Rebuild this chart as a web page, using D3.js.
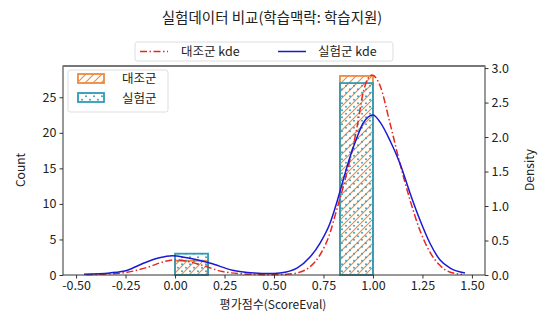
<!DOCTYPE html>
<html>
<head>
<meta charset="utf-8">
<script src="https://cdn.jsdelivr.net/npm/d3@7"></script>
<style>
  body { margin: 0; background: #fff; }
  text { font-family: "Noto Sans CJK KR", "Noto Sans", sans-serif; fill: #222; }
</style>
</head>
<body>
<svg id="chart" width="543" height="316"></svg>
<script>
// histogram bins (6 bins between 0 and 1)
const binEdges = [0, 0.1667, 0.3333, 0.5, 0.6667, 0.8333, 1.0];
const controlCounts = [2, 0, 0, 0, 0, 28];
const expCounts = [3, 0, 0, 0, 0, 27];

// kde curves
const controlKdeX = [-0.45, -0.34, -0.24, -0.13, -0.06, 0.0, 0.06, 0.126, 0.24, 0.35, 0.45, 0.55, 0.616, 0.682, 0.732, 0.783, 0.816, 0.85, 0.884, 0.92, 0.95, 0.975, 0.995, 1.035, 1.086, 1.136, 1.187, 1.237, 1.288, 1.338, 1.39, 1.45];
const controlKdeY = [0.005, 0.015, 0.04, 0.12, 0.19, 0.22, 0.2, 0.15, 0.05, 0.015, 0.005, 0.008, 0.03, 0.12, 0.29, 0.61, 0.94, 1.28, 1.67, 2.15, 2.64, 2.85, 2.9, 2.75, 2.2, 1.62, 1.09, 0.65, 0.33, 0.14, 0.04, 0.01];
const expKdeX = [-0.46, -0.33, -0.24, -0.16, -0.08, -0.015, 0.06, 0.18, 0.29, 0.4, 0.47, 0.53, 0.616, 0.682, 0.732, 0.783, 0.816, 0.85, 0.884, 0.92, 0.95, 1.0, 1.035, 1.086, 1.136, 1.187, 1.237, 1.288, 1.338, 1.39, 1.465];
const expKdeY = [0.01, 0.03, 0.07, 0.17, 0.25, 0.28, 0.25, 0.17, 0.07, 0.03, 0.02, 0.03, 0.1, 0.26, 0.46, 0.75, 1.04, 1.38, 1.71, 2.0, 2.2, 2.32, 2.22, 1.95, 1.62, 1.19, 0.8, 0.46, 0.22, 0.1, 0.03];

const xTicks = [-0.5, -0.25, 0, 0.25, 0.5, 0.75, 1.0, 1.25, 1.5];
const countTicks = [0, 5, 10, 15, 20, 25];
const densTicks = [0, 0.5, 1.0, 1.5, 2.0, 2.5, 3.0];

const orange = '#ef8a3e';
const teal = '#2f9bb4';

const svg = d3.select('#chart');
const plotLeft = 63, plotRight = 485, plotTop = 66, plotBottom = 275;

const x = d3.scaleLinear().domain([-0.566, 1.566]).range([plotLeft, plotRight]);
const yCount = d3.scaleLinear().domain([0, 29.4]).range([plotBottom, plotTop]);
const yDens = d3.scaleLinear().domain([0, 3.03]).range([plotBottom, plotTop]);

// hatch patterns
const defs = svg.append('defs');
const diag = defs.append('pattern').attr('id', 'diag')
  .attr('patternUnits', 'userSpaceOnUse').attr('width', 8).attr('height', 8);
diag.append('path').attr('d', 'M0,8 L8,0 M-2,2 L2,-2 M6,10 L10,6')
  .attr('stroke', orange).attr('stroke-width', 1.1);
const dots = defs.append('pattern').attr('id', 'dots')
  .attr('patternUnits', 'userSpaceOnUse').attr('width', 8).attr('height', 7);
dots.append('circle').attr('cx', 2).attr('cy', 1.75).attr('r', 0.95).attr('fill', teal);
dots.append('circle').attr('cx', 6).attr('cy', 5.25).attr('r', 0.95).attr('fill', teal);

// histograms
const drawHist = (counts, pat, color) => {
  const bins = counts.map((c, i) => ({ x0: binEdges[i], x1: binEdges[i + 1], c }))
    .filter(d => d.c > 0);
  svg.append('g').selectAll('rect').data(bins).enter().append('rect')
    .attr('x', d => x(d.x0))
    .attr('y', d => yCount(d.c))
    .attr('width', d => x(d.x1) - x(d.x0))
    .attr('height', d => yCount(0) - yCount(d.c))
    .attr('fill', `url(#${pat})`)
    .attr('stroke', color)
    .attr('stroke-width', 1.8);
};
drawHist(controlCounts, 'diag', orange);
drawHist(expCounts, 'dots', teal);

// kde lines
const line = d3.line().x(d => x(d[0])).y(d => yDens(d[1])).curve(d3.curveMonotoneX);
svg.append('path')
  .attr('d', line(controlKdeX.map((v, i) => [v, controlKdeY[i]])))
  .attr('fill', 'none').attr('stroke', '#e8281e').attr('stroke-width', 1.5)
  .attr('stroke-dasharray', '7,2.5,1.5,2.5');
svg.append('path')
  .attr('d', line(expKdeX.map((v, i) => [v, expKdeY[i]])))
  .attr('fill', 'none').attr('stroke', '#1a1ad6').attr('stroke-width', 1.5);

// frame
svg.append('rect').attr('x', plotLeft).attr('y', plotTop)
  .attr('width', plotRight - plotLeft).attr('height', plotBottom - plotTop)
  .attr('fill', 'none').attr('stroke', '#333').attr('stroke-width', 1);
svg.append('line').attr('x1', plotLeft).attr('x2', plotRight).attr('y1', plotTop).attr('y2', plotTop)
  .attr('stroke', '#777').attr('stroke-width', 2);

const fmt = s => v => d3.format(s)(v).replace('−', '-');

const xAxis = svg.append('g').attr('transform', `translate(0,${plotBottom})`)
  .call(d3.axisBottom(x).tickValues(xTicks).tickFormat(fmt('.2f')).tickSize(3.5).tickPadding(3));
const lAxis = svg.append('g').attr('transform', `translate(${plotLeft},0)`)
  .call(d3.axisLeft(yCount).tickValues(countTicks).tickFormat(d3.format('d')).tickSize(3.5).tickPadding(3));
const rAxis = svg.append('g').attr('transform', `translate(${plotRight},0)`)
  .call(d3.axisRight(yDens).tickValues(densTicks).tickFormat(fmt('.1f')).tickSize(3.5).tickPadding(3));
[xAxis, lAxis, rAxis].forEach(a => {
  a.select('.domain').remove();
  a.selectAll('line').attr('stroke', '#333');
  a.selectAll('text').attr('font-size', 12.5).attr('fill', '#333')
    .attr('font-family', '"Noto Sans CJK KR", sans-serif');
});

// labels
svg.append('text').attr('x', 272).attr('y', 23).attr('text-anchor', 'middle')
  .attr('font-size', 14.5).text('실험데이터 비교(학습맥락: 학습지원)');
svg.append('text').attr('x', 273).attr('y', 309).attr('text-anchor', 'middle')
  .attr('font-size', 12).text('평가점수(ScoreEval)');
svg.append('text').attr('transform', 'translate(25,170) rotate(-90)')
  .attr('text-anchor', 'middle').attr('font-size', 12).text('Count');
svg.append('text').attr('transform', 'translate(534,170) rotate(-90)')
  .attr('text-anchor', 'middle').attr('font-size', 12).text('Density');

// top legend (kde)
const tl = svg.append('g');
tl.append('rect').attr('x', 135).attr('y', 42).attr('width', 258).attr('height', 19)
  .attr('rx', 2.5).attr('fill', '#fff').attr('stroke', '#ddd');
tl.append('line').attr('x1', 140).attr('x2', 168).attr('y1', 51.5).attr('y2', 51.5)
  .attr('stroke', '#e8281e').attr('stroke-width', 1.5).attr('stroke-dasharray', '7,2.5,1.5,2.5');
tl.append('text').attr('x', 181).attr('y', 56).attr('font-size', 12.5).text('대조군 kde');
tl.append('line').attr('x1', 278).attr('x2', 306).attr('y1', 51.5).attr('y2', 51.5)
  .attr('stroke', '#1a1ad6').attr('stroke-width', 1.5);
tl.append('text').attr('x', 318).attr('y', 56).attr('font-size', 12.5).text('실험군 kde');

// inner legend (histograms)
const il = svg.append('g');
il.append('rect').attr('x', 68).attr('y', 70).attr('width', 100).attr('height', 42)
  .attr('rx', 2.5).attr('fill', '#fff').attr('fill-opacity', 0.8).attr('stroke', '#ddd');
il.append('rect').attr('x', 78).attr('y', 74).attr('width', 26).attr('height', 9)
  .attr('fill', 'url(#diag)').attr('stroke', orange).attr('stroke-width', 1.8);
il.append('text').attr('x', 122).attr('y', 83).attr('font-size', 12.5).text('대조군');
il.append('rect').attr('x', 78).attr('y', 93).attr('width', 26).attr('height', 9)
  .attr('fill', 'url(#dots)').attr('stroke', teal).attr('stroke-width', 1.8);
il.append('text').attr('x', 122).attr('y', 103).attr('font-size', 12.5).text('실험군');
</script>
</body>
</html>
